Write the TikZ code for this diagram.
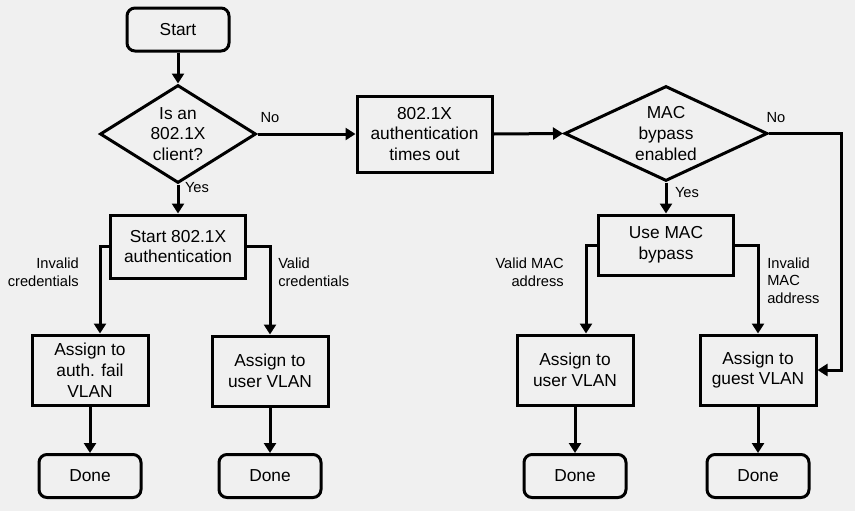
\documentclass[tikz,border=0pt]{standalone}
\usepackage{fontspec}
\setmainfont{Liberation Sans}
\usetikzlibrary{arrows.meta,shapes.geometric,positioning}
\definecolor{bgfill}{RGB}{240,240,240}
\tikzset{
  box/.style={draw=black, line width=2.25pt, fill=bgfill, align=center, inner sep=0pt, font=\fontsize{13}{15.6}\selectfont},
  term/.style={box, rounded corners=6pt, minimum width=76.5pt, minimum height=32.25pt},
  process/.style={box, minimum width=101.25pt, minimum height=47.25pt},
  assign/.style={box, minimum width=87pt, minimum height=52.5pt},
  decision/.style={draw=black, line width=2.25pt, diamond, inner sep=0pt},
  dtext/.style={align=center, inner sep=0pt, font=\fontsize{13}{15.6}\selectfont},
  flow/.style={line width=2.25pt, -{Triangle[length=7.5pt,width=9pt]}},
  lbl/.style={inner sep=0pt, font=\fontsize{11}{13.3}\selectfont}
}
\begin{document}
\begin{tikzpicture}[x=0.75pt,y=-0.75pt]
  \path[use as bounding box, fill=bgfill] (0,0) rectangle (855,511);
  % left half
  \node[term] (start) at (178,29.5) {Start};
  \node[decision, minimum width=117pt, minimum height=73.5pt] (q1) at (178,134) {};
  \node[dtext] (q1text) at (q1) {Is an\\802.1X\\client?};
  \node[process] (auth) at (178,246.5) {Start 802.1X\\authentication};
  \node[assign] (failvlan) at (90,370) {Assign to\\auth. fail\\VLAN};
  \node[assign] (uservlan) at (270,371) {Assign to\\user VLAN};
  \node[term] (doneA) at (90,476) {Done};
  \node[term] (doneB) at (270,476) {Done};
  % right half
  \node[process, minimum height=57pt] (timeout) at (424.5,134) {802.1X\\authentication\\times out};
  \node[decision, minimum width=152.25pt, minimum height=71.25pt] (q2) at (666,133.5) {};
  \node[dtext] (q2text) at (q2) {MAC\\bypass\\enabled};
  \node[process, minimum height=45pt] (macbp) at (666,245) {Use MAC\\bypass};
  \node[assign] (uservlanB) at (575,370) {Assign to\\user VLAN};
  \node[assign] (guestvlan) at (758,370) {Assign to\\guest VLAN};
  \node[term] (doneC) at (575,476) {Done};
  \node[term] (doneD) at (758,476) {Done};
  % labels
  \node[lbl] (noA) at (270,118) {No};
  \node[lbl] (yesA) at (197,188) {Yes};
  \node[lbl, anchor=east, align=right] (badcred) at (79,272) {Invalid\\credentials};
  \node[lbl, anchor=west, align=left] (goodcred) at (278,272) {Valid\\credentials};
  \node[lbl] (noB) at (776,118) {No};
  \node[lbl] (yesB) at (687,193) {Yes};
  \node[lbl, anchor=east, align=right] (goodmac) at (564,272) {Valid MAC\\address};
  \node[lbl, anchor=west, align=left] (badmac) at (767,280.5) {Invalid\\MAC\\address};
  % connectors
  \draw[flow] (start) -- (q1);
  \draw[flow] (q1) -- (auth);
  \draw[flow] (auth.west) -| ([xshift=7.5pt]failvlan.north);
  \draw[flow] (auth.east) -| (uservlan.north);
  \draw[flow] (failvlan) -- (doneA);
  \draw[flow] (uservlan) -- (doneB);
  \draw[flow] (q1.east) -- (timeout.west);
  \draw[flow] (timeout.east) -- (q2.west);
  \draw[flow] (q2) -- (macbp);
  \draw[flow] (macbp.west) -| ([xshift=8.25pt]uservlanB.north);
  \draw[flow] (macbp.east) -| (guestvlan.north);
  \draw[flow] (q2.east) -- ++(72,0) |- (guestvlan.east);
  \draw[flow] (uservlanB) -- (doneC);
  \draw[flow] (guestvlan) -- (doneD);
\end{tikzpicture}
\end{document}
